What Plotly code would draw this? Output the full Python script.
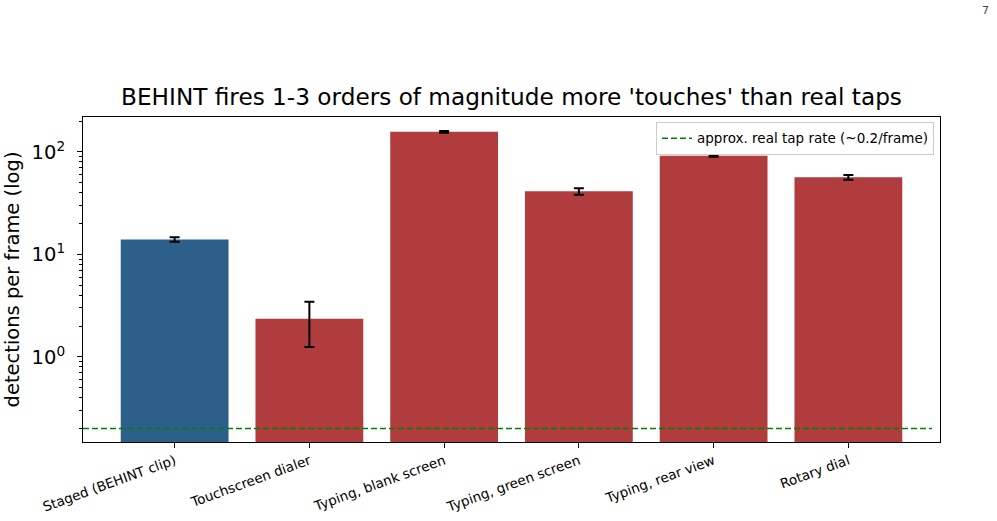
import plotly.graph_objects as go

categories = ["Staged (BEHINT clip)", "Touchscreen dialer", "Typing, blank screen",
              "Typing, green screen", "Typing, rear view", "Rotary dial"]
values = [14.0, 2.35, 157, 41.2, 91.4, 56.4]
errors = [0.7, 1.1, 3.0, 3.0, 2.0, 3.0]
colors = ["#2c5f8a", "#b03c3e", "#b03c3e", "#b03c3e", "#b03c3e", "#b03c3e"]
real_tap_rate = 0.2
x_range = [-0.68, 5.68]
y_tickvals = [1, 10, 100]
y_ticktext = ["10<sup>0</sup>", "10<sup>1</sup>", "10<sup>2</sup>"]
y_minor = [0.2, 0.3, 0.4, 0.5, 0.6, 0.7, 0.8, 0.9,
           2, 3, 4, 5, 6, 7, 8, 9, 20, 30, 40, 50, 60, 70, 80, 90, 200]

x = list(range(len(categories)))
dash_style = dict(color="green", dash="6px,3px", width=1.5)

fig = go.Figure()
fig.add_trace(go.Bar(
    x=x, y=values, marker=dict(color=colors, line=dict(width=0)), width=0.8,
    error_y=dict(type="data", array=errors, color="black", thickness=2, width=5),
    showlegend=False,
))
# legend entry for the reference line
fig.add_trace(go.Scatter(
    x=[None], y=[None], mode="lines", line=dash_style,
    name="approx. real tap rate (~0.2/frame)", showlegend=True,
))
fig.add_shape(type="line", xref="x", yref="y",
              x0=x_range[0], x1=x_range[1] - 0.06, y0=real_tap_rate, y1=real_tap_rate,
              line=dash_style, layer="above")

fig.add_annotation(text="7", xref="paper", yref="paper", x=1.0, y=1.0,
                   xanchor="left", yanchor="bottom", xshift=40, yshift=98,
                   showarrow=False, font=dict(size=11, color="#444444"))

fig.update_layout(
    width=997, height=521,
    margin=dict(l=83, r=57, t=117, b=79),
    paper_bgcolor="white", plot_bgcolor="white",
    font=dict(family="DejaVu Sans", color="black"),
    title=dict(text="BEHINT fires 1-3 orders of magnitude more 'touches' than real taps",
               x=(83 + 940) / 2 / 997, xanchor="center", y=1 - 97 / 521, yanchor="middle",
               font=dict(size=23.2, color="black")),
    legend=dict(x=0.993, y=0.985, xanchor="right", yanchor="top",
                bordercolor="#cccccc", borderwidth=1, bgcolor="rgba(255,255,255,0.8)",
                font=dict(size=13.5), itemwidth=30),
    bargap=0.2,
)
fig.update_xaxes(
    range=x_range, tickvals=x, ticktext=categories, tickangle=-20, automargin=False,
    tickfont=dict(size=13.5), ticks="outside", ticklen=5, tickcolor="black",
    showline=True, linecolor="black", linewidth=1, mirror=True, showgrid=False,
)
fig.update_yaxes(
    type="log", range=[-0.83, 2.34], tickvals=y_tickvals, ticktext=y_ticktext,
    tickfont=dict(size=19.5), ticks="outside", ticklen=5, tickcolor="black",
    ticklabelstandoff=8, automargin=False,
    minor=dict(tickvals=y_minor, ticks="outside", ticklen=3, tickcolor="black", showgrid=False),
    showline=True, linecolor="black", linewidth=1, mirror=True, showgrid=False,
    title=dict(text="detections per frame (log)", font=dict(size=19.5), standoff=6),
)

fig.write_html("out.html")
